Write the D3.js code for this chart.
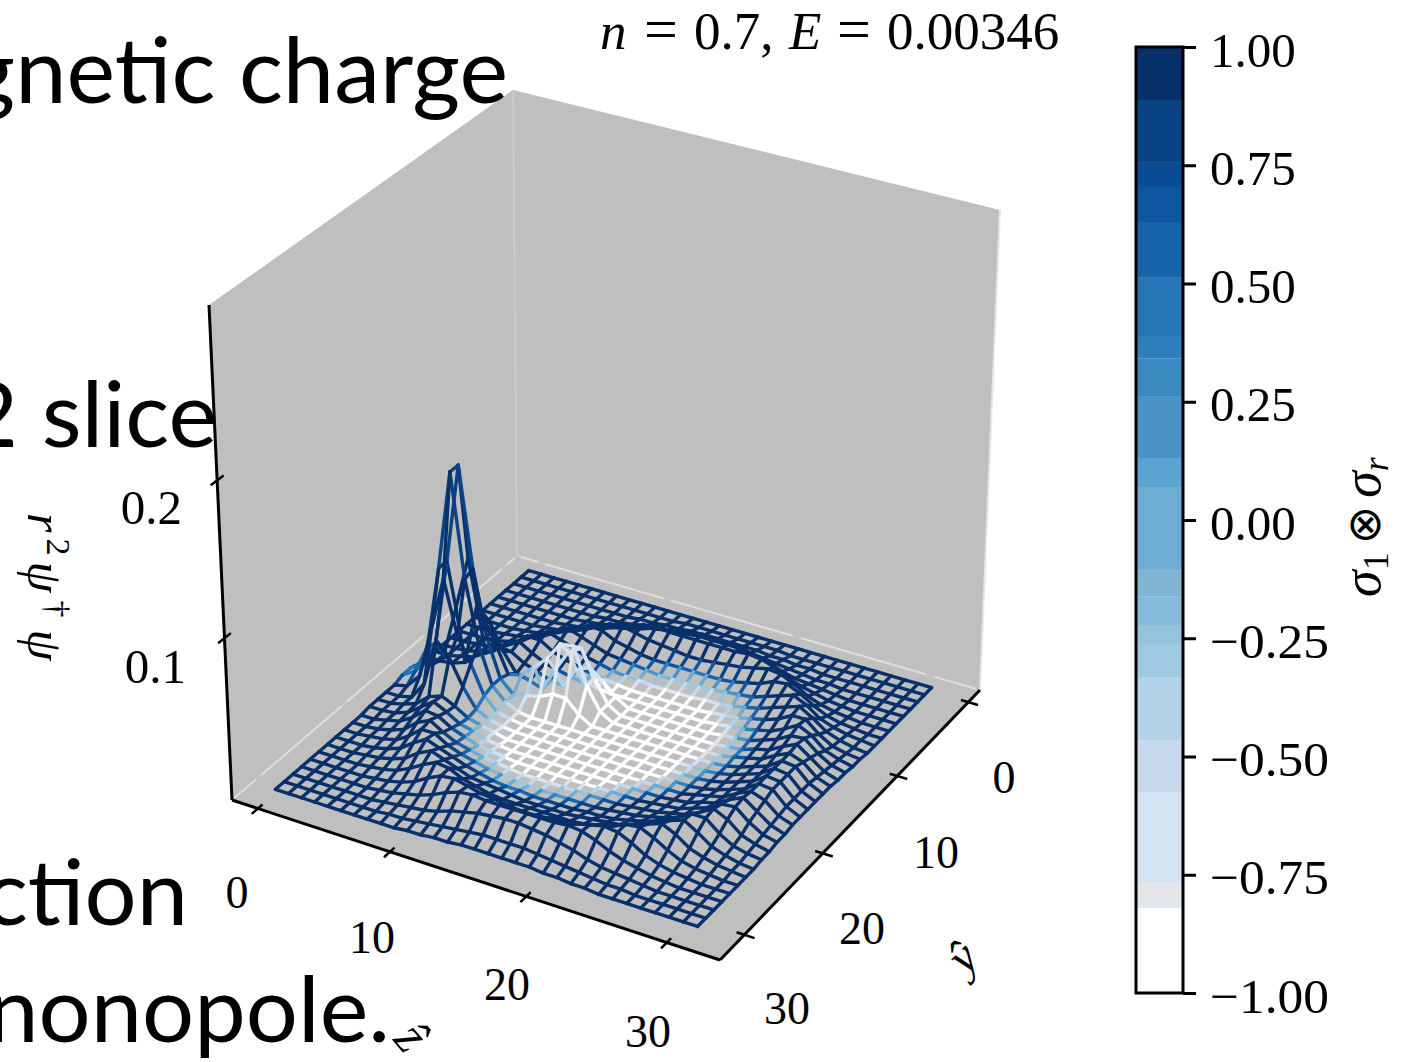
<!DOCTYPE html>
<html>
<head>
<meta charset="utf-8">
<script src="https://cdn.jsdelivr.net/npm/d3@7"></script>
<style>
  html, body { margin: 0; padding: 0; background: #fff; overflow: hidden; }
  text { fill: #000; }
</style>
</head>
<body>
<svg id="chart" width="1408" height="1062"></svg>
<script>
/* Grid coordinates of the wireframe */
var zValues = [0,1,2,3,4,5,6,7,8,9,10,11,12,13,14,15,16,17,18,19,20,21,22,23,24,25,26,27,28,29,30,31];
var yValues = [0,1,2,3,4,5,6,7,8,9,10,11,12,13,14,15,16,17,18,19,20,21,22,23,24,25,26,27,28,29,30,31];

/* r^2 psi^dagger psi, in units of 0.001. One row per y, one column per z */
var heightRows = [
[0,0,0,0,0,0,0,0,0,0,0,0,0,0,0,0,0,0,0,0,0,0,0,0,0,0,0,0,0,0,0,0],
[0,0,0,0,0,0,0,0,0,0,0,0,0,1,1,1,1,1,1,1,1,0,0,0,0,0,0,0,0,0,0,0],
[0,0,0,0,0,0,0,0,0,0,1,1,2,2,3,3,3,3,3,3,2,2,1,1,0,0,0,0,0,0,0,0],
[0,0,0,0,0,0,0,0,1,1,2,3,4,5,6,7,7,7,7,6,5,4,3,2,1,1,0,0,0,0,0,0],
[0,0,0,0,0,0,0,1,2,3,4,6,9,11,13,14,15,15,14,13,11,9,6,4,3,2,1,0,0,0,0,0],
[0,0,0,0,0,0,1,2,4,6,9,13,16,17,16,16,16,16,16,16,17,16,13,9,6,4,2,1,0,0,0,0],
[0,0,0,0,0,1,2,4,7,12,16,17,15,13,12,11,10,10,11,12,13,15,17,16,12,7,4,2,1,0,0,0],
[0,0,0,0,1,2,4,8,13,17,16,12,10,8,7,7,7,7,7,7,8,10,12,16,17,13,8,4,2,1,0,0],
[0,0,0,1,2,4,7,13,17,14,11,8,7,6,5,4,4,4,4,5,6,7,8,11,14,17,13,7,4,2,1,0],
[0,0,0,1,3,6,12,17,14,11,8,6,4,3,3,2,2,2,2,3,3,4,6,8,11,14,17,12,6,3,1,0],
[0,0,1,2,4,9,16,16,11,8,6,4,3,2,1,1,1,1,1,1,2,3,4,6,8,11,16,16,9,4,2,1],
[0,0,1,3,6,13,17,12,8,6,4,3,2,1,1,1,1,1,1,1,1,2,3,4,6,8,12,17,13,6,3,1],
[0,0,2,4,9,16,15,10,7,4,3,16,20,14,6,1,1,1,1,1,1,1,2,3,4,7,10,15,16,9,4,2],
[1,1,2,5,45,36,20,8,6,3,18,32,37,20,6,1,1,1,1,1,1,1,1,2,3,6,8,13,17,11,5,2],
[1,3,12,45,80,46,30,12,14,22,30,42,43,20,6,1,1,1,1,1,1,1,1,1,3,5,7,12,16,13,6,3],
[3,8,24,80,145,80,38,14,6,8,10,14,14,6,1,1,1,1,1,1,1,1,1,1,2,4,7,10,16,15,7,3],
[3,8,26,80,145,78,38,14,6,2,1,1,1,1,1,1,1,1,1,1,1,1,1,1,2,4,7,10,16,15,7,3],
[1,3,12,45,80,46,30,12,4,2,1,1,1,1,1,1,1,1,1,1,1,1,1,1,2,4,7,10,16,15,7,3],
[1,1,3,14,45,36,20,8,4,2,1,1,1,1,1,1,1,1,1,1,1,1,1,1,2,4,7,10,16,15,7,3],
[1,1,3,6,13,16,12,7,5,3,1,1,1,1,1,1,1,1,1,1,1,1,1,1,3,5,7,12,16,13,6,3],
[1,1,2,5,11,17,13,8,6,3,2,1,1,1,1,1,1,1,1,1,1,1,1,2,3,6,8,13,17,11,5,2],
[0,0,2,4,9,16,15,10,7,4,3,2,1,1,1,1,1,1,1,1,1,1,2,3,4,7,10,15,16,9,4,2],
[0,0,1,3,6,13,17,12,8,6,4,3,2,1,1,1,1,1,1,1,1,2,3,4,6,8,12,17,13,6,3,1],
[0,0,1,2,4,9,16,16,11,8,6,4,3,2,1,1,1,1,1,1,2,3,4,6,8,11,16,16,9,4,2,1],
[0,0,0,1,3,6,12,17,14,11,8,6,4,3,3,2,2,2,2,3,3,4,6,8,11,14,17,12,6,3,1,0],
[0,0,0,1,2,4,7,13,17,14,11,8,7,6,5,4,4,4,4,5,6,7,8,11,14,17,13,7,4,2,1,0],
[0,0,0,0,1,2,4,8,13,17,16,12,10,8,7,7,7,7,7,7,8,10,12,16,17,13,8,4,2,1,0,0],
[0,0,0,0,0,1,2,4,7,12,16,17,15,13,12,11,10,10,11,12,13,15,17,16,12,7,4,2,1,0,0,0],
[0,0,0,0,0,0,1,2,4,6,9,13,16,17,16,16,16,16,16,16,17,16,13,9,6,4,2,1,0,0,0,0],
[0,0,0,0,0,0,0,1,2,3,4,6,9,11,13,14,15,15,14,13,11,9,6,4,3,2,1,0,0,0,0,0],
[0,0,0,0,0,0,0,0,1,1,2,3,4,5,6,7,7,7,7,6,5,4,3,2,1,1,0,0,0,0,0,0],
[0,0,0,0,0,0,0,0,0,0,1,1,2,2,3,3,3,3,3,3,2,2,1,1,0,0,0,0,0,0,0,0]
];

/* sigma_1 x sigma_r colouring of the same grid, in units of 0.1 */
var colourRows = [
[10,10,10,10,10,10,10,10,10,10,10,10,10,10,10,10,10,10,10,10,10,10,10,10,10,10,10,10,10,10,10,10],
[10,10,10,10,10,10,10,10,10,10,10,10,10,10,10,10,10,10,10,10,10,10,10,10,10,10,10,10,10,10,10,10],
[10,10,10,10,10,10,10,10,10,10,10,10,10,10,10,10,10,10,10,10,10,10,10,10,10,10,10,10,10,10,10,10],
[10,10,10,10,10,10,10,10,10,10,10,10,10,10,10,10,10,10,10,10,10,10,10,10,10,10,10,10,10,10,10,10],
[10,10,10,10,10,10,10,10,10,10,10,10,10,10,10,10,10,10,10,10,10,10,10,10,10,10,10,10,10,10,10,10],
[10,10,10,10,10,10,10,10,10,10,10,10,10,10,10,10,10,10,10,10,10,10,10,10,10,10,10,10,10,10,10,10],
[10,10,10,10,10,10,10,10,10,10,10,10,10,10,10,10,10,10,10,10,10,10,10,10,10,10,10,10,10,10,10,10],
[10,10,10,10,10,10,10,10,10,10,10,10,10,10,10,7,7,4,4,7,7,10,10,10,10,10,10,10,10,10,10,10],
[10,10,10,10,10,10,10,10,10,10,10,10,10,7,4,0,-3,-3,-3,-3,0,4,7,10,10,10,10,10,10,10,10,10],
[10,10,10,10,10,10,10,10,10,10,10,10,4,0,-5,-5,-8,-8,-8,-8,-5,-3,4,7,10,10,10,10,10,10,10,10],
[10,10,10,10,10,10,10,10,10,10,10,4,-3,-8,-10,-10,-10,-10,-10,-10,-8,-5,-3,4,10,10,10,10,10,10,10,10],
[10,10,10,10,10,10,10,10,10,10,4,-3,-8,-10,-10,-10,-10,-10,-10,-10,-10,-8,-5,0,7,10,10,10,10,10,10,10],
[10,10,10,10,10,10,10,10,10,4,-3,-5,-5,-8,-10,-10,-10,-10,-10,-10,-10,-10,-8,-3,7,10,10,10,10,10,10,10],
[10,10,10,10,10,10,10,10,10,0,-5,-6,-6,-8,-10,-10,-10,-10,-10,-10,-10,-10,-8,-3,4,10,10,10,10,10,10,10],
[10,10,10,10,10,10,10,10,0,-4,-6,-6,-6,-8,-10,-10,-10,-10,-10,-10,-10,-10,-8,-3,4,10,10,10,10,10,10,10],
[5,5,7,9,8,9,10,7,0,-5,-10,-10,-10,-10,-10,-10,-10,-10,-10,-10,-10,-10,-8,-3,7,10,10,10,10,10,10,10],
[5,5,7,9,8,9,10,7,-3,-8,-10,-10,-10,-10,-10,-10,-10,-10,-10,-10,-10,-10,-5,0,7,10,10,10,10,10,10,10],
[10,10,10,10,10,10,10,4,-3,-8,-10,-10,-10,-10,-10,-10,-10,-10,-10,-10,-10,-10,-5,4,10,10,10,10,10,10,10,10],
[10,10,10,10,10,10,10,4,-3,-8,-10,-10,-10,-10,-10,-10,-10,-10,-10,-10,-10,-8,0,7,10,10,10,10,10,10,10,10],
[10,10,10,10,10,10,10,7,-3,-8,-10,-10,-10,-10,-10,-10,-10,-10,-10,-10,-8,-3,4,10,10,10,10,10,10,10,10,10],
[10,10,10,10,10,10,10,7,0,-5,-8,-10,-10,-10,-10,-10,-10,-10,-10,-8,-3,4,10,10,10,10,10,10,10,10,10,10],
[10,10,10,10,10,10,10,10,4,-3,-5,-8,-10,-10,-10,-10,-10,-10,-8,-3,4,10,10,10,10,10,10,10,10,10,10,10],
[10,10,10,10,10,10,10,10,7,4,-3,-5,-8,-8,-8,-8,-5,-5,0,4,10,10,10,10,10,10,10,10,10,10,10,10],
[10,10,10,10,10,10,10,10,10,7,4,0,-3,-3,-3,-3,0,4,7,10,10,10,10,10,10,10,10,10,10,10,10,10],
[10,10,10,10,10,10,10,10,10,10,10,7,7,4,4,7,7,10,10,10,10,10,10,10,10,10,10,10,10,10,10,10],
[10,10,10,10,10,10,10,10,10,10,10,10,10,10,10,10,10,10,10,10,10,10,10,10,10,10,10,10,10,10,10,10],
[10,10,10,10,10,10,10,10,10,10,10,10,10,10,10,10,10,10,10,10,10,10,10,10,10,10,10,10,10,10,10,10],
[10,10,10,10,10,10,10,10,10,10,10,10,10,10,10,10,10,10,10,10,10,10,10,10,10,10,10,10,10,10,10,10],
[10,10,10,10,10,10,10,10,10,10,10,10,10,10,10,10,10,10,10,10,10,10,10,10,10,10,10,10,10,10,10,10],
[10,10,10,10,10,10,10,10,10,10,10,10,10,10,10,10,10,10,10,10,10,10,10,10,10,10,10,10,10,10,10,10],
[10,10,10,10,10,10,10,10,10,10,10,10,10,10,10,10,10,10,10,10,10,10,10,10,10,10,10,10,10,10,10,10],
[10,10,10,10,10,10,10,10,10,10,10,10,10,10,10,10,10,10,10,10,10,10,10,10,10,10,10,10,10,10,10,10]
];

/* Colour bar bands, from -1 upward */
var bandEdges = [-0.82,-0.767,-0.575,-0.465,-0.332,-0.262,-0.222,-0.161,-0.106,0.068,0.131,0.262,0.342,0.387,0.512,0.63,0.704,0.755,0.888];
var bandColours = ["#ffffff","#e3e6e9","#d3e3f3","#c7d9ec","#b3d3e8","#9fc9e0","#93c4dc","#85bcdc","#82b5d4","#6badd5","#5ba3d0","#4a93c7","#3a8ac1","#2f7fbc","#2575b7","#1764ab","#0d56a2","#0a4d94","#084485","#08306b"];
var colourTicks = [-1,-0.75,-0.5,-0.25,0,0.25,0.5,0.75,1];

var zTicks = [0,10,20,30];
var yTicks = [0,10,20,30];
var heightTicks = [0.1,0.2];
var zTickLabels = [[237,908],[372,953],[507,1000],[648,1047]];
var yTickLabels = [[1004,793],[936,868],[862,944],[787,1024]];
var heightTickLabels = [[186,683],[182,524]];

/* Slide text the figure was pasted over */
var slideLines = [
    {text: "gnetic charge", x: 508, y: 103},
    {text: "2 slice", x: 217, y: 447},
    {text: "ction", x: 188, y: 925},
    {text: "nonopole.", x: 390, y: 1042}
];

var serif = "'Liberation Serif', serif";
var svg = d3.select("#chart");

/* Box corners on screen: back, right, front, left, for floor and ceiling */
var floorCorners = [[517,556],[980,690],[720,960],[232,800]];
var topCorners = [[513,90],[1000,210],[727,450],[209,305]];

/* Map the unit square onto a quad (projective) */
function quadMap(p) {
    var dx1 = p[1][0] - p[2][0], dx2 = p[3][0] - p[2][0], sx = p[0][0] - p[1][0] + p[2][0] - p[3][0];
    var dy1 = p[1][1] - p[2][1], dy2 = p[3][1] - p[2][1], sy = p[0][1] - p[1][1] + p[2][1] - p[3][1];
    var den = dx1 * dy2 - dx2 * dy1;
    var g = (sx * dy2 - dx2 * sy) / den, h = (dx1 * sy - sx * dy1) / den;
    var a = p[1][0] - p[0][0] + g * p[1][0], b = p[3][0] - p[0][0] + h * p[3][0];
    var d = p[1][1] - p[0][1] + g * p[1][1], e = p[3][1] - p[0][1] + h * p[3][1];
    return function(u, v) {
        var w = g * u + h * v + 1;
        return [(a * u + b * v + p[0][0]) / w, (d * u + e * v + p[0][1]) / w];
    };
}
var floorMap = quadMap(floorCorners), topMap = quadMap(topCorners);

var zScale = d3.scaleLinear().domain([-2.0, 33.7]).range([0, 1]);
var yScale = d3.scaleLinear().domain([-1.7, 33.0]).range([0, 1]);
var hScale = d3.scaleLinear().domain([-0.0025, 0.3111]).range([0, 1]);

function boxPoint(u, v, t) {
    var f = floorMap(u, v), c = topMap(u, v);
    return [f[0] + (c[0] - f[0]) * t, f[1] + (c[1] - f[1]) * t];
}
function project(z, y, value) {
    return boxPoint(zScale(z), yScale(y), hScale(value));
}

/* Panes */
var paneColour = "#bfbfbf";
var panes = [
    [floorCorners[0], floorCorners[1], floorCorners[2], floorCorners[3]],
    [floorCorners[3], floorCorners[0], topCorners[0], topCorners[3]],
    [floorCorners[0], floorCorners[1], topCorners[1], topCorners[0]]
];
svg.selectAll("polygon.pane")
    .data(panes)
    .enter()
    .append("polygon")
    .attr("class", "pane")
    .attr("points", d => d.join(" "))
    .attr("fill", paneColour);

/* Pale pane edges, broken where a tick sits */
var lineGen = d3.line();
var edgeRuns = [];
d3.pairs([zScale.domain()[0]].concat(zTicks, [zScale.domain()[1]])).forEach(function(s) {
    edgeRuns.push([boxPoint(zScale(s[0] + 0.3), 0, 0), boxPoint(zScale(s[1] - 0.3), 0, 0)]);
});
d3.pairs([yScale.domain()[0]].concat(yTicks, [yScale.domain()[1]])).forEach(function(s) {
    edgeRuns.push([boxPoint(0, yScale(s[0] + 0.3), 0), boxPoint(0, yScale(s[1] - 0.3), 0)]);
});
svg.selectAll("path.edge")
    .data(edgeRuns)
    .enter()
    .append("path")
    .attr("class", "edge")
    .attr("d", lineGen)
    .attr("fill", "none")
    .attr("stroke", "#dedede")
    .attr("stroke-width", 2);
svg.append("path")
    .attr("d", lineGen([floorCorners[0], topCorners[0]]))
    .attr("stroke", "#cdcdcd").attr("stroke-width", 1.5).attr("fill", "none");
svg.append("path")
    .attr("d", lineGen([floorCorners[1], topCorners[1]]))
    .attr("stroke", "#e6e6e6").attr("stroke-width", 2).attr("fill", "none");

/* Wireframe */
var colourScale = d3.scaleThreshold().domain(bandEdges).range(bandColours);
var segments = [];
yValues.forEach(function(y, b) {
    zValues.forEach(function(z, a) {
        if (a < zValues.length - 1) segments.push({a0: a, b0: b, a1: a + 1, b1: b});
        if (b < yValues.length - 1) segments.push({a0: a, b0: b, a1: a, b1: b + 1});
    });
});
segments.sort((p, q) => (p.a0 + p.b0) - (q.a0 + q.b0));

function gridPoint(a, b) {
    return project(zValues[a], yValues[b], heightRows[b][a] / 1000);
}
svg.selectAll("line.wire")
    .data(segments)
    .enter()
    .append("line")
    .attr("class", "wire")
    .attr("x1", d => gridPoint(d.a0, d.b0)[0])
    .attr("y1", d => gridPoint(d.a0, d.b0)[1])
    .attr("x2", d => gridPoint(d.a1, d.b1)[0])
    .attr("y2", d => gridPoint(d.a1, d.b1)[1])
    .attr("stroke", d => colourScale((colourRows[d.b0][d.a0] + colourRows[d.b1][d.a1]) / 20))
    .attr("stroke-width", 3.4)
    .attr("stroke-linecap", "round");

/* Black axis lines and ticks */
function blackLine(p, q, w) {
    svg.append("path")
        .attr("d", lineGen([p, q]))
        .attr("stroke", "#000")
        .attr("stroke-width", w)
        .attr("fill", "none");
}
blackLine(floorCorners[3], floorCorners[2], 3);
blackLine(floorCorners[2], floorCorners[1], 3);
blackLine(floorCorners[3], topCorners[3], 3);
zTicks.forEach(function(z) {
    blackLine(boxPoint(zScale(z), 0.985, 0), boxPoint(zScale(z), 1.02, 0), 2.5);
});
yTicks.forEach(function(y) {
    blackLine(boxPoint(0.985, yScale(y), 0), boxPoint(1.02, yScale(y), 0), 2.5);
});
heightTicks.forEach(function(h) {
    blackLine(boxPoint(0, 0.98, hScale(h)), boxPoint(0, 1.02, hScale(h)), 2.5);
});

/* Tick labels */
function addLabels(values, places, format) {
    values.forEach(function(v, i) {
        svg.append("text")
            .attr("x", places[i][0])
            .attr("y", places[i][1])
            .attr("text-anchor", format ? "end" : "middle")
            .attr("font-family", serif)
            .attr("font-size", format ? 49 : 46)
            .text(format ? format(v) : v);
    });
}
addLabels(zTicks, zTickLabels);
addLabels(yTicks, yTickLabels);
addLabels(heightTicks, heightTickLabels, d3.format(".1f"));

/* Axis names */
function addRotated(x, y, angle, size, build) {
    var t = svg.append("text")
        .attr("transform", "translate(" + x + "," + y + ") rotate(" + angle + ")")
        .attr("font-family", serif)
        .attr("font-size", size);
    build(t);
}
addRotated(965, 960, -45, 48, function(t) {
    t.attr("text-anchor", "middle").attr("dy", 12).attr("font-style", "italic").text("\u0177");
});
addRotated(408, 1040, 50, 52, function(t) {
    t.attr("text-anchor", "middle").attr("dy", 12).attr("font-style", "italic").text("\u1e91");
});
addRotated(28, 513, 90, 50, function(t) {
    t.append("tspan").attr("font-style", "italic").text("r");
    t.append("tspan").attr("font-size", 34).attr("dx", 6).attr("dy", -19).text("2");
    t.append("tspan").attr("font-style", "italic").attr("dx", 6).attr("dy", 19).text("\u03c8");
    t.append("tspan").attr("font-size", 34).attr("dx", 8).attr("dy", -18).text("\u2020");
    t.append("tspan").attr("font-style", "italic").attr("dx", 12).attr("dy", 18).text("\u03c8");
});
addRotated(1380, 597, -90, 54, function(t) {
    t.append("tspan").attr("font-style", "italic").text("\u03c3");
    t.append("tspan").attr("font-size", 36).attr("dy", 8).text("1");
    t.append("tspan").attr("dy", -8).attr("dx", 8).attr("font-family", "'DejaVu Sans'").attr("font-size", 46).text("\u2297");
    t.append("tspan").attr("dx", 8).attr("font-style", "italic").text("\u03c3");
    t.append("tspan").attr("font-size", 36).attr("font-style", "italic").attr("dy", 8).text("r");
});

/* Title */
var title = svg.append("text")
    .attr("y", 49)
    .attr("font-family", serif)
    .attr("font-size", 53);
title.append("tspan").attr("x", 600).attr("font-style", "italic").text("n");
title.append("tspan").attr("x", 644).attr("font-size", 60).text("=");
title.append("tspan").attr("x", 694).text("0.7,");
title.append("tspan").attr("x", 789).attr("font-style", "italic").text("E");
title.append("tspan").attr("x", 837).attr("font-size", 60).text("=");
title.append("tspan").attr("x", 887).text("0.00346");

/* Colour bar */
var barY = d3.scaleLinear().domain([-1, 1]).range([993, 47]);
var bandStops = [-1].concat(bandEdges, [1]);
svg.selectAll("rect.band")
    .data(bandColours)
    .enter()
    .append("rect")
    .attr("class", "band")
    .attr("x", 1136)
    .attr("width", 47)
    .attr("y", (d, i) => barY(bandStops[i + 1]))
    .attr("height", (d, i) => barY(bandStops[i]) - barY(bandStops[i + 1]))
    .attr("fill", d => d);
svg.append("rect")
    .attr("x", 1136).attr("y", 47).attr("width", 47).attr("height", 946)
    .attr("fill", "none").attr("stroke", "#000").attr("stroke-width", 3);

var barAxis = svg.append("g")
    .attr("transform", "translate(1183,0)")
    .call(d3.axisRight(barY).tickValues(colourTicks).tickSize(13).tickPadding(14)
        .tickFormat(d => d3.format(".2f")(d).replace("-", "\u2212")));
barAxis.select(".domain").remove();
barAxis.selectAll("line").attr("stroke", "#000").attr("stroke-width", 3);
barAxis.selectAll("text")
    .attr("font-family", serif)
    .attr("font-size", 49)
    .attr("dy", "0.39em")
    .attr("fill", "#000");
barAxis.selectAll("text")
    .filter(d => d < 0)
    .attr("textLength", 119)
    .attr("lengthAdjust", "spacingAndGlyphs");

/* Slide text on top of the figure */
svg.selectAll("text.slide")
    .data(slideLines)
    .enter()
    .append("text")
    .attr("class", "slide")
    .attr("x", d => d.x)
    .attr("y", d => d.y)
    .attr("text-anchor", "end")
    .attr("font-family", "Lato, 'Open Sans', sans-serif")
    .attr("font-size", 92)
    .text(d => d.text);
</script>
</body>
</html>
